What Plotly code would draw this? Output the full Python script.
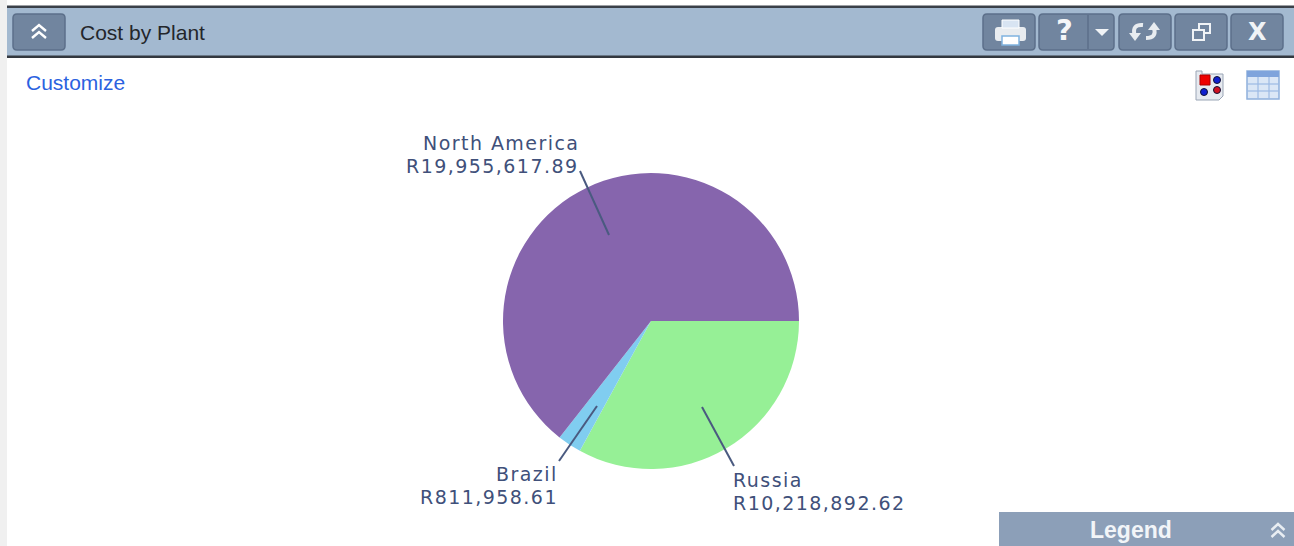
import plotly.graph_objects as go

categories = ["Russia", "Brazil", "North America"]
values = [10218892.62, 811958.61, 19955617.89]
value_labels = ["R10,218,892.62", "R811,958.61", "R19,955,617.89"]
slice_colors = ["#96f096", "#80cdf0", "#8665ad"]

W, H = 1294, 546
INK = "#40507a"
BTN = "#71859f"
BTN_EDGE = "#5c6f8a"

fig = go.Figure()
fig.add_trace(go.Pie(
    labels=categories, values=values, sort=False, direction="clockwise", rotation=90,
    textinfo="none", hoverinfo="label+text", text=value_labels, showlegend=False,
    marker=dict(colors=slice_colors, line=dict(width=0)),
    domain=dict(x=[503 / W, 799 / W], y=[1 - 469 / H, 1 - 173 / H]),
))

shapes, annos = [], []

def rect(x0, y0, x1, y1, fill, line=None, lw=1, layer="below"):
    shapes.append(dict(type="rect", xref="x", yref="y", x0=x0, y0=y0, x1=x1, y1=y1,
                       fillcolor=fill, line=dict(color=line or fill, width=lw if line else 0), layer=layer))

def seg(x0, y0, x1, y1, color, w=1.5, layer="above"):
    shapes.append(dict(type="line", xref="x", yref="y", x0=x0, y0=y0, x1=x1, y1=y1,
                       line=dict(color=color, width=w), layer=layer))

def path(d, fill=None, line=None, w=1, layer="above"):
    shapes.append(dict(type="path", xref="x", yref="y", path=d,
                       fillcolor=fill or "rgba(0,0,0,0)",
                       line=dict(color=line or "rgba(0,0,0,0)", width=w if line else 0), layer=layer))

def text(x, y, s, size, color, family="Liberation Sans", anchor="left", bold=False):
    annos.append(dict(xref="x", yref="y", x=x, y=y, text=f"<b>{s}</b>" if bold else s, showarrow=False,
                      xanchor=anchor, yanchor="middle", align=anchor,
                      font=dict(family=family, size=size, color=color)))

def spaced(s):
    return f'<span style="letter-spacing:1.45px">{s}</span>'

def rounded(x0, y0, x1, y1, r=4):
    return (f"M{x0+r},{y0} L{x1-r},{y0} Q{x1},{y0} {x1},{y0+r} L{x1},{y1-r} Q{x1},{y1} {x1-r},{y1} "
            f"L{x0+r},{y1} Q{x0},{y1} {x0},{y1-r} L{x0},{y0+r} Q{x0},{y0} {x0+r},{y0} Z")

def chevrons(cx, cy, color="#ffffff", hw=7, w=2.4):
    for dy in (-5, 2):
        path(f"M{cx-hw},{cy+dy+6} L{cx},{cy+dy} L{cx+hw},{cy+dy+6}", line=color, w=w)

# page & header band
rect(0, 0, 7, H, "#f0f0f0")
rect(7, 7, W, 56, "#a3b9d0")
rect(7, 5.5, W, 8, "#3a4048")
rect(7, 55.5, W, 58, "#33383f")

# header buttons
for x0, x1 in [(13, 65), (983, 1035), (1039, 1114), (1119, 1171), (1175, 1227), (1231, 1283)]:
    path(rounded(x0, 14, x1, 50), fill=BTN, line=BTN_EDGE, w=1.5, layer="below")
seg(1088, 15, 1088, 49, BTN_EDGE, 1.5)
chevrons(39, 30, w=2.4)

# printer
path(rounded(995, 27, 1026, 41, 3), fill="#e8ecf0")
rect(1002, 20, 1019, 28, "#d8e4f2", "#ffffff", 1, layer="above")
rect(1002, 36, 1019, 45, "#ffffff", "#7fb2e0", 1.5, layer="above")
# help, dropdown, close
text(1064, 30, "?", 29, "#f4f6f8", family="DejaVu Sans", anchor="center", bold=True)
path("M1095,29 L1109,29 L1102,36 Z", fill="#f0f3f6")
text(1257, 32, "X", 24, "#f0f3f6", family="DejaVu Sans", anchor="center", bold=True)
# refresh
path("M1143,25 Q1132,24 1134.5,35", line="#e8ecf0", w=4)
path("M1129,33 L1141,33 L1135,41 Z", fill="#e8ecf0")
path("M1146,38 Q1157,38 1154,28", line="#e8ecf0", w=4)
path("M1148,30 L1160,30 L1154,22 Z", fill="#e8ecf0")
# restore
rect(1199, 24, 1210, 33, BTN, "#f0f3f6", 2, layer="above")
rect(1193, 30, 1204, 40, BTN, "#f0f3f6", 2, layer="above")

text(78, 32, "Cost by Plant", 21, "#23262b")
text(24, 82, "Customize", 21, "#2b62e0")

# view icons
path("M1196,71 L1202,71 L1202,74 L1223,74 L1223,96 L1219,100 L1196,100 Z", fill="#e6eaf0", line="#9aa5b5", w=1)
rect(1200, 75, 1210, 85, "#ee0000", "#aa0000", 1, layer="above")
for cx, cy, c in [(1217, 80, "#1020d0"), (1204, 92, "#1020d0"), (1217, 90, "#d01020")]:
    shapes.append(dict(type="circle", xref="x", yref="y", x0=cx-3.5, y0=cy-3.5, x1=cx+3.5, y1=cy+3.5,
                       fillcolor=c, line=dict(color="#111133", width=1), layer="above"))
rect(1247, 71, 1279, 99, "#dbe7f6", "#8fb0dc", 1.5, layer="above")
rect(1247, 71, 1279, 77, "#7fa4dc", layer="above")
for x in (1258, 1269):
    seg(x, 77, x, 99, "#9dbbe4", 1.2)
for y in (84, 91):
    seg(1247, y, 1279, y, "#9dbbe4", 1.2)

# legend bar
rect(999, 512, W, H, "#8c9fb8")
text(1131, 530, "Legend", 23, "#f2f5f8", anchor="center", bold=True)
chevrons(1278, 529, color="#e8edf2", hw=6.5, w=2.4)

# pie leader lines
LEAD = "#4a5a80"
seg(580, 171, 609, 235, LEAD, 2)
seg(597, 406, 559, 461, LEAD, 2)
seg(702, 407, 734, 466, LEAD, 2)

# pie labels
F = "DejaVu Sans"
S = 19
text(581, 142.5, spaced(categories[2]), S, INK, F, "right")
text(581, 165.5, spaced(value_labels[2]), S, INK, F, "right")
text(560, 473.5, spaced(categories[1]), S, INK, F, "right")
text(560, 496.5, spaced(value_labels[1]), S, INK, F, "right")
text(731, 479.5, spaced(categories[0]), S, INK, F, "left")
text(731, 502.5, spaced(value_labels[0]), S, INK, F, "left")

fig.update_layout(
    width=W, height=H, margin=dict(l=0, r=0, t=0, b=0),
    paper_bgcolor="#ffffff", plot_bgcolor="rgba(0,0,0,0)",
    xaxis=dict(range=[0, W], visible=False, fixedrange=True),
    yaxis=dict(range=[H, 0], visible=False, fixedrange=True),
    shapes=shapes, annotations=annos,
)
fig.write_html("out.html", config=dict(displayModeBar=False),
               post_script="document.body.style.margin='0';document.body.style.overflow='hidden';")
